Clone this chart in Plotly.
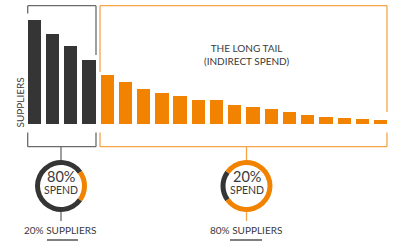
import plotly.graph_objects as go

# ---- data ----
top_suppliers = [104, 90, 78, 64]          # the 20% of suppliers (direct)
tail_suppliers = [49, 42, 35, 31, 28, 24, 24, 19, 17, 15, 12, 9, 7, 6, 5, 4]  # long tail
spend_top = [80, 20]     # 80% spend / rest
spend_tail = [20, 80]    # 20% spend / rest
labels = {
    "axis": "SUPPLIERS",
    "tail": "THE LONG TAIL<br>(INDIRECT SPEND)",
    "left_pct": "80%", "right_pct": "20%",
    "left_sub": "20% SUPPLIERS", "right_sub": "80% SUPPLIERS",
}

DARK = "#353535"
ORANGE = "#F28300"
DARK_LINE = "#6b6b6b"
ORANGE_LINE = "#F6A448"
TEXT = "#3a3a3a"
FONT = "Lato"

W, H = 405, 250

def px(x):
    return x / W

def py(y):
    return 1 - y / H

n_top = len(top_suppliers)
x_top = list(range(n_top))
x_tail = list(range(n_top, n_top + len(tail_suppliers)))

fig = go.Figure()
fig.add_trace(go.Bar(x=x_top, y=top_suppliers, marker=dict(color=DARK, line=dict(width=0)),
                     width=0.73, hoverinfo="skip"))
fig.add_trace(go.Bar(x=x_tail, y=tail_suppliers, marker=dict(color=ORANGE, line=dict(width=0)),
                     width=0.73, hoverinfo="skip"))

# donuts
def donut(cx, cy, r, vals, cols, rot):
    fig.add_trace(go.Pie(values=vals, marker=dict(colors=cols, line=dict(width=0)),
                         hole=(r - 5) / r, sort=False, direction="clockwise",
                         rotation=rot, textinfo="none", hoverinfo="skip", showlegend=False,
                         domain=dict(x=[px(cx - r), px(cx + r)], y=[py(cy + r), py(cy - r)])))

donut(61, 186, 26, spend_top, [DARK, ORANGE], 126)
donut(246.5, 186, 26, spend_tail, [DARK, ORANGE], 234)

shapes = []
def line(x0, y0, x1, y1, color, w=1.3):
    shapes.append(dict(type="line", xref="paper", yref="paper",
                       x0=px(x0), y0=py(y0), x1=px(x1), y1=py(y1),
                       line=dict(color=color, width=w)))

# dark top bracket
line(27.7, 5.7, 96, 5.7, DARK_LINE)
line(27.7, 5.7, 27.7, 13.5, DARK_LINE)
line(96, 5.7, 96, 55, DARK_LINE)
# orange top bracket
line(100, 5.7, 387, 5.7, ORANGE_LINE)
line(100, 5.7, 100, 72, ORANGE_LINE)
line(387, 5.7, 387, 112, ORANGE_LINE)
# bottom brackets
line(27.7, 146.7, 96, 146.7, DARK_LINE)
line(27.7, 132.5, 27.7, 146.7, DARK_LINE)
line(96, 132.5, 96, 146.7, DARK_LINE)
line(100, 146.7, 387, 146.7, ORANGE_LINE)
line(100, 132.5, 100, 146.7, ORANGE_LINE)
line(387, 132.5, 387, 146.7, ORANGE_LINE)
# stems
line(61, 146.7, 61, 160, DARK_LINE)
line(61, 212, 61, 221, DARK_LINE)
line(246.5, 146.7, 246.5, 160, ORANGE_LINE)
line(246.5, 212, 246.5, 221, ORANGE_LINE)
# underlines
line(47, 240, 78, 240, "#555555", 1.5)
line(230, 240, 262, 240, "#555555", 1.5)

ann = []
def text(x, y, s, size, angle=0):
    ann.append(dict(xref="paper", yref="paper", x=px(x), y=py(y), text=s, showarrow=False,
                    xanchor="center", yanchor="middle", textangle=angle,
                    font=dict(family=FONT, size=size, color=TEXT)))

text(19.5, 103, labels["axis"], 10, -90)
text(246, 55, labels["tail"], 10)
text(61, 176.5, labels["left_pct"], 14.5)
text(61, 190, "SPEND", 10.5)
text(246.5, 176.5, labels["right_pct"], 14.5)
text(246.5, 190, "SPEND", 10.5)
text(60, 230, labels["left_sub"], 10)
text(245.5, 230, labels["right_sub"], 10)

# axis mapping: bar i centred at 34.3 + 18.23*i px, baseline at y=124.3 px
pitch = 18.23
x0 = -34.3 / pitch
x1 = x0 + W / pitch
fig.update_layout(
    width=W, height=H, margin=dict(l=0, r=0, t=0, b=0),
    paper_bgcolor="white", plot_bgcolor="white", showlegend=False,
    bargap=0,
    xaxis=dict(range=[x0, x1], visible=False, fixedrange=True),
    yaxis=dict(range=[124.3 - H, 124.3], visible=False, fixedrange=True),
    shapes=shapes, annotations=ann,
)
fig.write_html("out.html")
